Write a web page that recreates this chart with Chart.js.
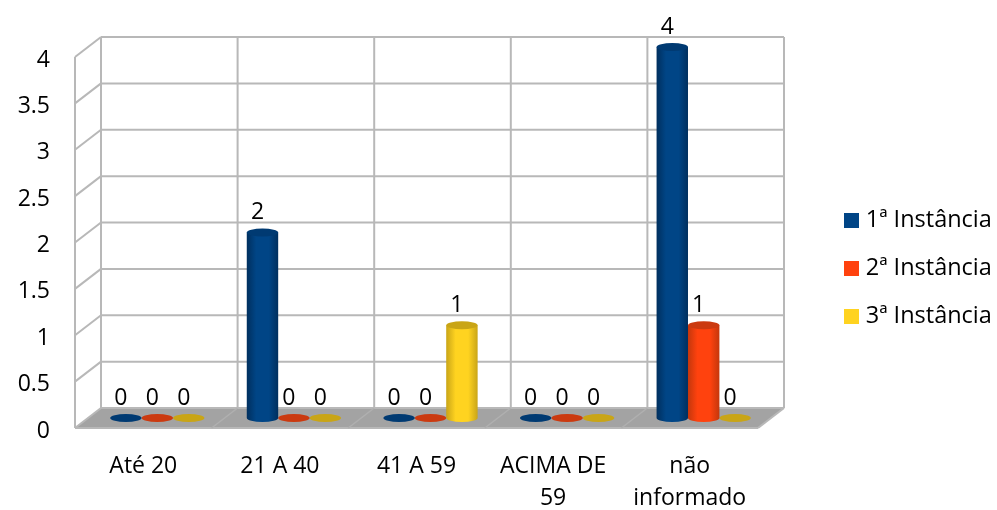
<!DOCTYPE html>
<html>
<head>
    <title>Instâncias</title>
    <script src="https://cdn.jsdelivr.net/npm/chart.js"></script>
    <style>
        body { margin: 0; background: #fff; }
        canvas { display: block; }
    </style>
</head>
<body>
    <canvas id="chart" width="997" height="510"></canvas>

    <script>
        const categories = ['Até 20', '21 A 40', '41 A 59', ['ACIMA DE', '59'], ['não', 'informado']];
        const seriesNames = ['1ª Instância', '2ª Instância', '3ª Instância'];
        const instancia1 = [0, 2, 0, 0, 4];
        const instancia2 = [0, 0, 0, 0, 1];
        const instancia3 = [0, 0, 1, 0, 0];
        const yTicks = [0, 0.5, 1, 1.5, 2, 2.5, 3, 3.5, 4];

        const mainColors = ['#004586', '#ff420e', '#ffd320'];
        const edgeColors = ['#002f5e', '#c4370c', '#c9a518'];
        const topColors = ['#003a72', '#cb3a10', '#c9a516'];

        const FONT = '"Open Sans", sans-serif';
        const DEPTH_X = 26, DEPTH_Y = 20;
        const GRID = '#b8b8b8';

        function line(ctx, x1, y1, x2, y2) {
            ctx.beginPath();
            ctx.moveTo(x1, y1);
            ctx.lineTo(x2, y2);
            ctx.stroke();
        }

        // legend swatches are images so the text can sit closer to them
        function swatch(color) {
            const c = document.createElement('canvas');
            c.width = 15;
            c.height = 15;
            const g = c.getContext('2d');
            g.fillStyle = color;
            g.fillRect(0, 0, 15, 15);
            return c;
        }
        const swatches = mainColors.map(swatch);

        // back wall, side wall and floor, taken from the scales
        const walls = {
            id: 'walls',
            beforeDatasetsDraw(chart) {
                const { ctx, chartArea: a, scales: { x, y } } = chart;
                ctx.save();
                ctx.strokeStyle = GRID;
                ctx.lineWidth = 2;
                const top = y.getPixelForValue(4), bottom = y.getPixelForValue(0);

                ctx.fillStyle = '#a3a3a3';
                ctx.beginPath();
                ctx.moveTo(a.left, bottom);
                ctx.lineTo(a.left + DEPTH_X, bottom - DEPTH_Y);
                ctx.lineTo(a.right + DEPTH_X, bottom - DEPTH_Y);
                ctx.lineTo(a.right, bottom);
                ctx.closePath();
                ctx.fill();

                yTicks.forEach(v => {
                    const py = y.getPixelForValue(v);
                    line(ctx, a.left, py, a.left + DEPTH_X, py - DEPTH_Y);
                    line(ctx, a.left + DEPTH_X, py - DEPTH_Y, a.right + DEPTH_X, py - DEPTH_Y);
                });
                line(ctx, a.left, top, a.left, bottom);
                line(ctx, a.right, bottom, a.right + DEPTH_X, bottom - DEPTH_Y);
                line(ctx, a.left, bottom, a.right, bottom);

                const step = (a.right - a.left) / categories.length;
                for (let i = 0; i <= categories.length; i++) {
                    const px = a.left + step * i;
                    line(ctx, px + DEPTH_X, top - DEPTH_Y, px + DEPTH_X, bottom - DEPTH_Y);
                    if (i > 0 && i < categories.length) {
                        ctx.save();
                        ctx.strokeStyle = '#b0b0b0';
                        ctx.lineWidth = 1.5;
                        line(ctx, px, bottom, px + DEPTH_X, bottom - DEPTH_Y);
                        ctx.restore();
                    }
                }
                ctx.restore();
            },
            // cylinders replace the flat bars
            beforeDatasetDraw(chart, args) {
                const { ctx } = chart;
                const i = args.index;
                const RY = 4;
                ctx.save();
                chart.getDatasetMeta(i).data.forEach(bar => {
                    const cx = bar.x + 14;
                    const w = bar.width / 2;
                    const topY = bar.y - DEPTH_Y / 2;
                    const baseY = bar.base - DEPTH_Y / 2;
                    if (baseY - topY > 1) {
                        const g = ctx.createLinearGradient(cx - w, 0, cx + w, 0);
                        g.addColorStop(0, edgeColors[i]);
                        g.addColorStop(0.3, mainColors[i]);
                        g.addColorStop(0.7, mainColors[i]);
                        g.addColorStop(1, edgeColors[i]);
                        ctx.fillStyle = g;
                        ctx.beginPath();
                        ctx.moveTo(cx - w, topY);
                        ctx.lineTo(cx - w, baseY);
                        ctx.ellipse(cx, baseY, w, RY, 0, Math.PI, 0, true);
                        ctx.lineTo(cx + w, topY);
                        ctx.closePath();
                        ctx.fill();
                    }
                    ctx.fillStyle = topColors[i];
                    ctx.beginPath();
                    ctx.ellipse(cx, topY, w, RY, 0, 0, Math.PI * 2);
                    ctx.fill();
                });
                ctx.restore();
                return false;
            },
            afterDatasetsDraw(chart) {
                const { ctx } = chart;
                ctx.save();
                ctx.fillStyle = '#000';
                ctx.font = '23px ' + FONT;
                ctx.textAlign = 'center';
                ctx.textBaseline = 'middle';
                chart.data.datasets.forEach((ds, i) => {
                    chart.getDatasetMeta(i).data.forEach((bar, j) => {
                        ctx.fillText(ds.data[j], bar.x + 9, bar.y - DEPTH_Y / 2 - 20);
                    });
                });
                ctx.restore();
            },
            // legend sits right of the plot, not inside it
            afterLayout(chart) {
                const lg = chart.legend;
                const pad = lg.options.labels.padding;
                lg.left = 849 - pad;
                lg.right = 997;
                lg.top = 209 - pad;
                lg.bottom = 510;
            }
        };

        new Chart(document.getElementById('chart'), {
            type: 'bar',
            data: {
                labels: categories,
                datasets: [
                    { label: seriesNames[0], data: instancia1, backgroundColor: mainColors[0] },
                    { label: seriesNames[1], data: instancia2, backgroundColor: mainColors[1] },
                    { label: seriesNames[2], data: instancia3, backgroundColor: mainColors[2] }
                ]
            },
            options: {
                responsive: false,
                animation: false,
                layout: { padding: { top: 57, right: 239, bottom: 0, left: 0 } },
                datasets: { bar: { barPercentage: 1, categoryPercentage: 0.69 } },
                plugins: {
                    tooltip: { enabled: false },
                    legend: {
                        position: 'chartArea',
                        align: 'start',
                        labels: {
                            color: '#000',
                            usePointStyle: true,
                            pointStyleWidth: 5,
                            padding: 24.5,
                            font: { family: FONT, size: 23.5 },
                            generateLabels: chart =>
                                Chart.defaults.plugins.legend.labels.generateLabels(chart)
                                    .map((item, i) => ({ ...item, pointStyle: swatches[i] }))
                        }
                    }
                },
                scales: {
                    x: {
                        grid: { display: false, drawTicks: false },
                        border: { display: false },
                        afterFit: s => { s.height = 82; },
                        ticks: {
                            color: '#000',
                            padding: 22,
                            maxRotation: 0,
                            autoSkip: false,
                            font: { family: FONT, size: 23, lineHeight: 1.4 }
                        }
                    },
                    y: {
                        min: 0,
                        max: 4,
                        grid: { display: false, drawTicks: false },
                        border: { display: false },
                        afterFit: s => { s.width = 75; },
                        ticks: {
                            color: '#000',
                            stepSize: 0.5,
                            padding: 25,
                            labelOffset: 3,
                            font: { family: FONT, size: 23 },
                            callback: v => String(v)
                        }
                    }
                }
            },
            plugins: [walls]
        });
    </script>
</body>
</html>
